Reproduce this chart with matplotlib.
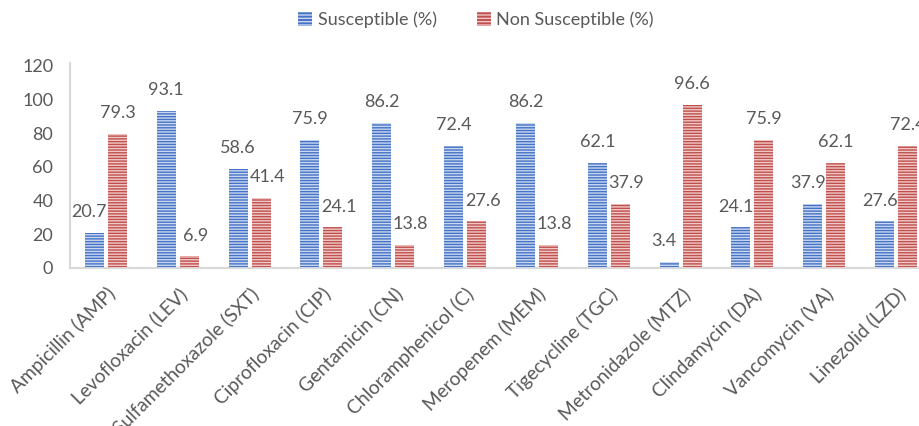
import matplotlib
matplotlib.use("Agg")
import matplotlib.pyplot as plt
import numpy as np

categories = ["Ampicillin (AMP)", "Levofloxacin (LEV)", "Sulfamethoxazole (SXT)",
              "Ciprofloxacin (CIP)", "Gentamicin (CN)", "Chloramphenicol (C)",
              "Meropenem (MEM)", "Tigecycline (TGC)", "Metronidazole (MTZ)",
              "Clindamycin (DA)", "Vancomycin (VA)", "Linezolid (LZD)"]
susceptible = [20.7, 93.1, 58.6, 75.9, 86.2, 72.4, 86.2, 62.1, 3.4, 24.1, 37.9, 27.6]
non_susceptible = [79.3, 6.9, 41.4, 24.1, 13.8, 27.6, 13.8, 37.9, 96.6, 75.9, 62.1, 72.4]
series_names = ["Susceptible (%)", "Non Susceptible (%)"]
yticks = [0, 20, 40, 60, 80, 100, 120]

plt.rcParams['font.family'] = ['Lato', 'DejaVu Sans']
plt.rcParams['hatch.linewidth'] = 1.0
txt = '#595959'

W, H = 920, 426
fig = plt.figure(figsize=(W / 100, H / 100), dpi=100)
ax = fig.add_axes([70 / W, (H - 268) / H, 862 / W, 205 / H])

x = np.arange(len(categories))
bw = 0.265
off = 0.16
face = ['#4472C4', '#C0504D']
stripe = ['#c9d7f0', '#f0c8c7']

handles = []
for vals, sgn, fc, sc, name in [(susceptible, -1, face[0], stripe[0], series_names[0]),
                                (non_susceptible, 1, face[1], stripe[1], series_names[1])]:
    ax.bar(x + sgn * off, vals, bw, color=fc, edgecolor='none', linewidth=0, zorder=2)
    ax.bar(x + sgn * off, vals, bw, facecolor='none', edgecolor=sc, hatch='------',
           linewidth=0, zorder=3)
    handles.append(plt.Rectangle((0, 0), 1, 1, facecolor=fc, edgecolor=sc, hatch='-----',
                                 linewidth=0))

for i in range(len(categories)):
    s, n = susceptible[i], non_susceptible[i]
    dx_s = -5 if n > s else 0
    dx_n = 6 if s > n else 0
    ax.annotate(f"{s:.1f}", (x[i] - off, s), xytext=(dx_s * 0.72, 15), textcoords='offset points',
                ha='center', va='center', fontsize=13, color=txt)
    ax.annotate(f"{n:.1f}", (x[i] + off, n), xytext=(dx_n * 0.72, 15), textcoords='offset points',
                ha='center', va='center', fontsize=13, color=txt, annotation_clip=False)

ax.set_xlim(-0.5, len(categories) - 0.5)
ax.set_ylim(0, 121.5)
ax.set_yticks(yticks)
ax.set_yticklabels([str(v) for v in yticks], fontsize=13, color=txt)
ax.set_xticks(x)
ax.set_xticklabels(categories, rotation=45, ha='right', rotation_mode='anchor',
                   fontsize=13.8, color=txt)
ax.tick_params(axis='both', length=0)
ax.tick_params(axis='y', pad=12)
ax.tick_params(axis='x', pad=12)
for s in ['top', 'right']:
    ax.spines[s].set_visible(False)
for s in ['left', 'bottom']:
    ax.spines[s].set_color('#D9D9D9')
    ax.spines[s].set_linewidth(1.5)

fig.legend(handles, series_names, loc='center', bbox_to_anchor=(476 / W, 1 - 20 / H),
           ncol=2, frameon=False, fontsize=13, labelcolor=txt, handlelength=0.8,
           handleheight=0.8, handletextpad=0.3, columnspacing=2.2)

fig.savefig('out.png', dpi=100)
